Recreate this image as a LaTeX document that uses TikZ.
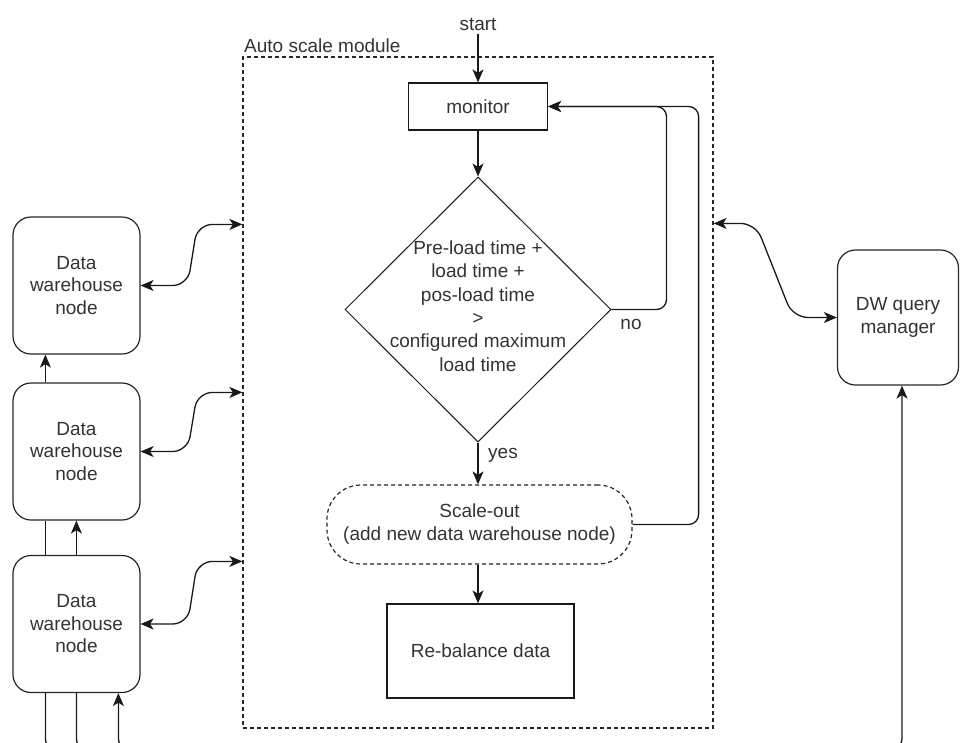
\documentclass[tikz,border=0pt]{standalone}
\usepackage{fontspec}
\setmainfont{Liberation Sans}
\usetikzlibrary{arrows.meta,shapes.geometric,calc}

\begin{document}
\begin{tikzpicture}[x=1pt,y=-1pt,
  every node/.style={font=\fontsize{19}{22.5}\selectfont, text=black!80},
  tip/.tip={Stealth[length=13pt,width=11pt,inset=3.5pt]},
  line/.style={line width=1.3pt, draw=black!90},
  arr/.style={line, -tip},
  biarr/.style={line, tip-tip},
  dwnode/.style={draw=black!85, line width=1.2pt, rounded corners=18pt,
    minimum width=127pt, minimum height=137pt, align=center, inner sep=0pt},
  plainbox/.style={draw=black!90, line width=1.2pt, align=center, inner sep=0pt},
  dashbox/.style={draw=black!85, line width=1.2pt, dash pattern=on 4pt off 3pt}
]
\useasboundingbox (0,0) rectangle (960,742);
\clip (0,0) rectangle (960,742);

% auto scale module frame
\node[dashbox, minimum width=470pt, minimum height=671pt, inner sep=0pt] (module) at (478,392.5) {};
\node[anchor=base west, inner sep=0pt] (modlabel) at (244,52) {Auto scale module};

% flow inside the module
\node[anchor=base] (start) at (478,30) {start};
\node[plainbox, minimum width=139pt, minimum height=47pt] (monitor) at (478,106.5) {monitor};
\node[shape=diamond, draw=black!90, line width=1pt, minimum width=266pt, minimum height=265pt, inner sep=0pt] (cond) at (478,309.5) {};
\node[align=center, font=\fontsize{19}{23.4}\selectfont] (condtext) at (478,306) {Pre-load time +\\load time +\\pos-load time\\>\\configured maximum\\load time};
\node[dashbox, rounded corners=34pt, minimum width=305pt, minimum height=79pt, align=center, inner sep=0pt, font=\fontsize{19}{23}\selectfont] (scale) at (479.5,524.5) {Scale-out\\(add new data warehouse node)};
\node[plainbox, minimum width=187pt, minimum height=94pt] (rebal) at (480.5,651) {Re-balance data};
\node[anchor=base] (nolabel) at (631,329) {no};
\node[anchor=base west, inner sep=0pt] (yeslabel) at (488,458) {yes};

\draw[arr] (start.south) -- (monitor.north);
\draw[arr] (monitor) -- (cond);
\draw[arr] (cond.south) -- (cond.south |- scale.north);
\draw[arr] (cond.south |- scale.south) -- (cond.south |- rebal.north);
\draw[arr, rounded corners=10pt] (cond.east) -- ++(55,0) |- (monitor.east);
\draw[arr, rounded corners=10pt] (scale.east) -- ++(66,0) |- (monitor.east);

% data warehouse nodes
\node[dwnode] (n1) at (76.5,285.5) {Data\\warehouse\\node};
\node[dwnode] (n2) at (76.5,451.5) {Data\\warehouse\\node};
\node[dwnode] (n3) at (76.5,624) {Data\\warehouse\\node};

\draw[arr] ([xshift=33pt]n2.north west) -- ([xshift=33pt]n1.south west);
\draw[line] ([xshift=33pt]n3.north west) -- ([xshift=33pt]n2.south west);
\draw[arr] ([xshift=64pt]n3.north west) -- ([xshift=64pt]n2.south west);

\coordinate (offA) at (70,748);
\coordinate (offB) at (100,748);
\coordinate (offC) at (140,748);
\coordinate (offD) at (880,748);
\draw[line, rounded corners=9pt] ([xshift=33pt]n3.south west) |- (offA);
\draw[line, rounded corners=9pt] ([xshift=64pt]n3.south west) |- (offB);
\draw[arr, rounded corners=9pt] (offC) -| ([xshift=106pt]n3.south west);

% ports on the module frame
\coordinate (p1) at ([yshift=-168pt]module.north west);
\coordinate (p2) at ([yshift=-336pt]module.north west);
\coordinate (p3) at ([yshift=-505pt]module.north west);
\coordinate (p4) at ([yshift=-167pt]module.north east);

\draw[biarr, rounded corners=15pt] (n1.east) -- ++(47,0) -- ($(p1)+(-45,0)$) -- (p1);
\draw[biarr, rounded corners=15pt] (n2.east) -- ++(47,0) -- ($(p2)+(-45,0)$) -- (p2);
\draw[biarr, rounded corners=15pt] (n3.east) -- ++(47,0) -- ($(p3)+(-45,0)$) -- (p3);

% query manager
\node[dwnode, minimum width=121pt, minimum height=135pt] (dwq) at (898,317.5) {DW query\\manager};
\draw[biarr, rounded corners=15pt] (p4) -- ++(42,0) -- ($(dwq.west)+(-44,0)$) -- (dwq.west);
\draw[arr, rounded corners=9pt] (offD) -| ([xshift=4pt]dwq.south);

\end{tikzpicture}
\end{document}
